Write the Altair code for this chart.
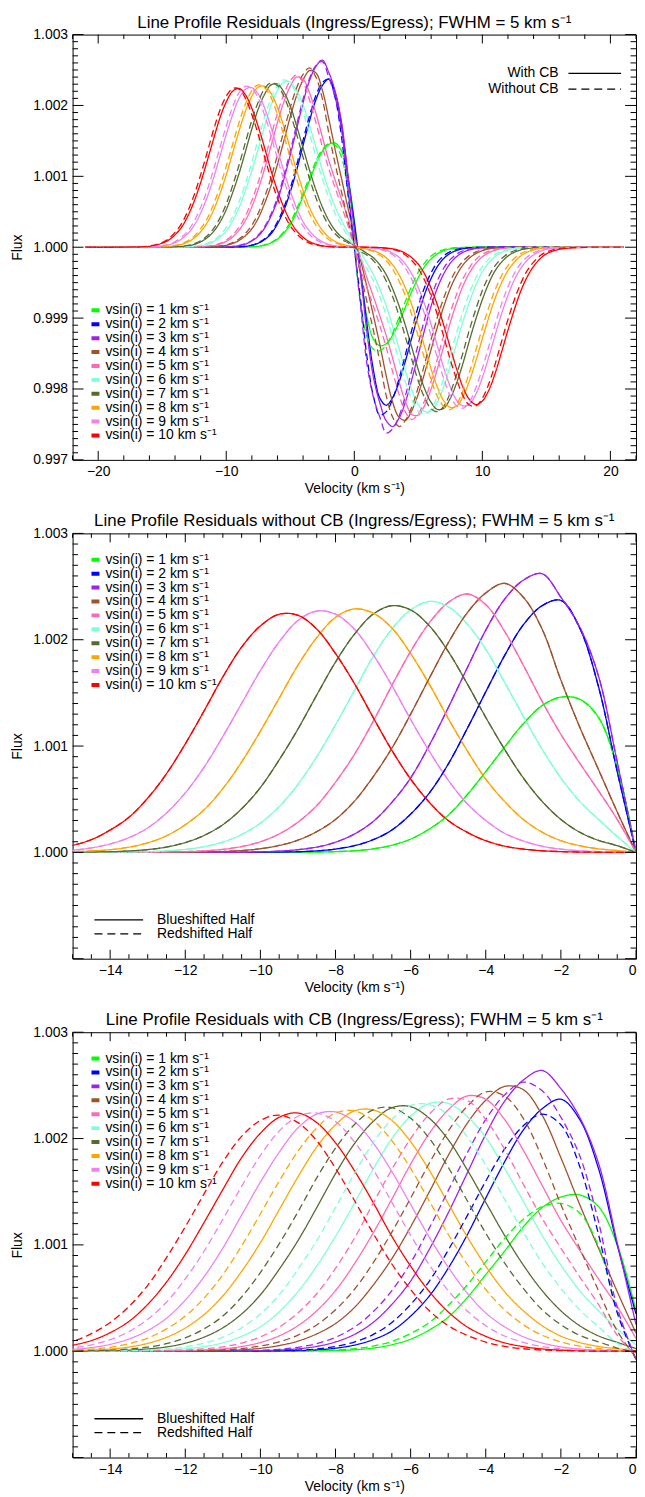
import altair as alt
import pandas as pd

FONT = "Liberation Sans"
SUP = " km s\u207b\u00b9"

# ---------------- data (residuals in units of 1e-3 of flux) ----------------
VEL = [-21, -18, -16, -15, -14.5, -14, -13.5, -13, -12.5, -12, -11.5, -11, -10.5, -10,
       -9.5, -9, -8.5, -8, -7.5, -7, -6.5, -6, -5.5, -5, -4.5, -4, -3.5, -3, -2.5, -2,
       -1.5, -1, -0.5, 0]

# without CB (blueshifted and redshifted halves coincide)
NOCB = {
    1: [0] * 15 + [0.001, 0.003, 0.007, 0.015, 0.033, 0.067, 0.125, 0.22, 0.35, 0.54, 0.76, 0.99,
                   1.21, 1.38, 1.46, 1.44, 1.27, 0.80, 0],
    2: [0] * 13 + [0.001, 0.003, 0.006, 0.014, 0.031, 0.063, 0.119, 0.21, 0.36, 0.56, 0.83, 1.16,
                   1.51, 1.85, 2.14, 2.32, 2.37, 2.11, 1.56, 0.76, 0],
    3: [0] * 13 + [0.005, 0.012, 0.025, 0.050, 0.096, 0.172, 0.29, 0.47, 0.70, 1.01, 1.36, 1.73,
                   2.09, 2.38, 2.56, 2.62, 2.40, 2.12, 1.66, 0.85, 0],
    4: [0] * 9 + [0.002, 0.004, 0.008, 0.017, 0.034, 0.065, 0.115, 0.195, 0.31, 0.48, 0.71, 0.98,
                  1.30, 1.64, 1.97, 2.25, 2.44, 2.53, 2.40, 2.10, 1.62, 1.18, 0.78, 0.38, 0],
    5: [0] * 7 + [0.001, 0.003, 0.007, 0.014, 0.028, 0.055, 0.100, 0.173, 0.284, 0.44, 0.66, 0.92,
                  1.23, 1.57, 1.89, 2.16, 2.35, 2.43, 2.33, 2.08, 1.76, 1.42, 1.11, 0.84, 0.58, 0.31, 0],
    6: [0, 0, 0, 0, 0, 0.001, 0.003, 0.006, 0.014, 0.028, 0.053, 0.097, 0.168, 0.275, 0.43, 0.64,
        0.90, 1.20, 1.52, 1.84, 2.10, 2.28, 2.36, 2.31, 2.15, 1.91, 1.60, 1.28, 0.97, 0.70, 0.48,
        0.31, 0.15, 0],
    7: [0, 0, 0, 0.001, 0.003, 0.006, 0.013, 0.026, 0.050, 0.092, 0.159, 0.26, 0.41, 0.61, 0.87,
        1.16, 1.48, 1.79, 2.05, 2.24, 2.32, 2.28, 2.13, 1.89, 1.59, 1.27, 0.97, 0.70, 0.48, 0.31,
        0.19, 0.113, 0.063, 0],
    8: [0, 0, 0.001, 0.006, 0.013, 0.025, 0.049, 0.090, 0.156, 0.26, 0.40, 0.60, 0.85, 1.14, 1.45,
        1.76, 2.02, 2.21, 2.29, 2.25, 2.11, 1.87, 1.58, 1.26, 0.96, 0.69, 0.48, 0.31, 0.19, 0.11,
        0.063, 0.033, 0.017, 0],
    9: [0, 0, 0.005, 0.021, 0.042, 0.079, 0.139, 0.23, 0.37, 0.56, 0.80, 1.09, 1.40, 1.71, 1.98,
        2.18, 2.27, 2.24, 2.10, 1.86, 1.57, 1.25, 0.95, 0.68, 0.46, 0.30, 0.18, 0.107, 0.058,
        0.030, 0.015, 0.007, 0.003, 0],
    10: [0, 0.001, 0.017, 0.067, 0.12, 0.21, 0.33, 0.51, 0.74, 1.02, 1.33, 1.65, 1.93, 2.13, 2.24,
         2.23, 2.10, 1.87, 1.59, 1.27, 0.96, 0.69, 0.47, 0.30, 0.19, 0.11, 0.059, 0.031, 0.015,
         0.007, 0.003, 0.001, 0, 0],
}

# with CB, blueshifted half (solid)
CB_BLUE = {
    1: [0] * 15 + [0.001, 0.003, 0.006, 0.013, 0.029, 0.060, 0.113, 0.20, 0.32, 0.50, 0.72, 0.94,
                   1.17, 1.35, 1.45, 1.47, 1.36, 1.00, 0.38],
    2: [0] * 13 + [0.001, 0.003, 0.005, 0.012, 0.028, 0.057, 0.108, 0.19, 0.33, 0.52, 0.78, 1.09,
                   1.44, 1.78, 2.08, 2.28, 2.37, 2.18, 1.72, 1.00, 0.35],
    3: [0] * 13 + [0.004, 0.011, 0.022, 0.045, 0.087, 0.157, 0.27, 0.44, 0.66, 0.96, 1.30, 1.67,
                   2.04, 2.35, 2.55, 2.64, 2.47, 2.20, 1.77, 1.02, 0.25],
    4: [0] * 9 + [0.001, 0.003, 0.006, 0.013, 0.027, 0.053, 0.095, 0.163, 0.26, 0.41, 0.62, 0.87,
                  1.17, 1.50, 1.84, 2.14, 2.36, 2.49, 2.46, 2.22, 1.82, 1.38, 0.97, 0.56, 0.17],
    5: [0] * 7 + [0.001, 0.002, 0.005, 0.011, 0.022, 0.044, 0.082, 0.144, 0.24, 0.38, 0.57, 0.82,
                  1.11, 1.43, 1.76, 2.05, 2.27, 2.40, 2.37, 2.18, 1.89, 1.56, 1.23, 0.95, 0.68,
                  0.42, 0.12],
    6: [0, 0, 0, 0, 0, 0.001, 0.002, 0.005, 0.011, 0.022, 0.043, 0.079, 0.14, 0.23, 0.37, 0.56,
        0.80, 1.08, 1.39, 1.71, 2.00, 2.21, 2.33, 2.33, 2.21, 2.01, 1.72, 1.41, 1.09, 0.81, 0.57,
        0.38, 0.21, 0.06],
    7: [0, 0, 0, 0.001, 0.002, 0.005, 0.010, 0.021, 0.040, 0.075, 0.132, 0.22, 0.35, 0.53, 0.77,
        1.04, 1.35, 1.67, 1.95, 2.16, 2.29, 2.30, 2.19, 1.99, 1.71, 1.40, 1.09, 0.81, 0.57, 0.38,
        0.24, 0.144, 0.083, 0.025],
    8: [0, 0, 0.001, 0.004, 0.010, 0.020, 0.039, 0.074, 0.13, 0.218, 0.344, 0.52, 0.75, 1.02,
        1.33, 1.64, 1.92, 2.13, 2.26, 2.27, 2.17, 1.97, 1.70, 1.39, 1.08, 0.80, 0.56, 0.38, 0.24,
        0.142, 0.082, 0.045, 0.023, 0.007],
    9: [0, 0, 0.004, 0.017, 0.034, 0.064, 0.115, 0.194, 0.31, 0.48, 0.70, 0.97, 1.28, 1.59, 1.87,
        2.10, 2.23, 2.25, 2.16, 1.96, 1.69, 1.38, 1.07, 0.79, 0.55, 0.36, 0.23, 0.136, 0.078,
        0.041, 0.021, 0.010, 0.005, 0],
    10: [0, 0.001, 0.013, 0.057, 0.10, 0.174, 0.28, 0.44, 0.65, 0.91, 1.21, 1.52, 1.82, 2.05,
         2.20, 2.24, 2.15, 1.96, 1.70, 1.40, 1.08, 0.80, 0.56, 0.37, 0.23, 0.14, 0.079, 0.043,
         0.021, 0.010, 0.005, 0.001, 0, 0],
}

# with CB, redshifted half mirrored onto negative velocities (dashed)
CB_RED = {
    1: [0] * 14 + [0, 0.002, 0.005, 0.011, 0.023, 0.048, 0.092, 0.166, 0.27, 0.43, 0.62, 0.84,
                   1.06, 1.24, 1.36, 1.39, 1.30, 0.99, 0.38, -0.08],
    2: [0] * 12 + [0, 0.002, 0.004, 0.010, 0.021, 0.045, 0.086, 0.156, 0.27, 0.44, 0.66, 0.95,
                   1.27, 1.60, 1.90, 2.12, 2.23, 2.13, 1.74, 1.10, 0.36, -0.08],
    3: [0] * 12 + [0.002, 0.008, 0.018, 0.037, 0.071, 0.131, 0.225, 0.37, 0.57, 0.83, 1.16, 1.51,
                   1.86, 2.18, 2.41, 2.53, 2.45, 2.20, 1.84, 1.22, 0.41, -0.08],
    4: [0] * 8 + [0.001, 0.003, 0.006, 0.012, 0.025, 0.049, 0.088, 0.152, 0.247, 0.39, 0.58, 0.83,
                  1.12, 1.44, 1.77, 2.07, 2.30, 2.44, 2.40, 2.19, 1.82, 1.38, 0.97, 0.57, 0.19, -0.06],
    5: [0] * 6 + [0.0005, 0.002, 0.005, 0.010, 0.021, 0.041, 0.077, 0.135, 0.226, 0.36, 0.54, 0.78,
                  1.06, 1.39, 1.71, 2.00, 2.23, 2.37, 2.36, 2.18, 1.90, 1.57, 1.25, 0.97, 0.70,
                  0.44, 0.15, -0.04],
    6: [0, 0, 0, 0, 0, 0.002, 0.0045, 0.01, 0.021, 0.04, 0.075, 0.132, 0.22, 0.35, 0.53, 0.77,
        1.04, 1.35, 1.67, 1.96, 2.18, 2.31, 2.32, 2.22, 2.02, 1.75, 1.43, 1.12, 0.83, 0.59, 0.39,
        0.23, 0.075, -0.02],
    7: [0, 0, 0, 0.002, 0.0045, 0.0095, 0.02, 0.038, 0.071, 0.125, 0.21, 0.33, 0.51, 0.74, 1.01,
        1.31, 1.63, 1.91, 2.13, 2.27, 2.29, 2.19, 2.00, 1.73, 1.42, 1.11, 0.83, 0.59, 0.39, 0.25,
        0.15, 0.088, 0.03, -0.01],
    8: [0, 0, 0.003, 0.01, 0.019, 0.037, 0.07, 0.123, 0.21, 0.33, 0.50, 0.72, 0.99, 1.29, 1.60,
        1.88, 2.10, 2.24, 2.26, 2.17, 1.98, 1.72, 1.41, 1.10, 0.82, 0.58, 0.39, 0.25, 0.15, 0.087,
        0.048, 0.025, 0.008, -0.005],
    9: [0, 0.001, 0.01, 0.031, 0.06, 0.109, 0.184, 0.30, 0.46, 0.68, 0.94, 1.24, 1.55, 1.84, 2.07,
        2.21, 2.24, 2.16, 1.97, 1.71, 1.40, 1.09, 0.81, 0.57, 0.38, 0.24, 0.143, 0.083, 0.044,
        0.023, 0.011, 0.005, 0.001, 0],
    10: [0, 0.003, 0.03, 0.094, 0.165, 0.27, 0.42, 0.62, 0.88, 1.17, 1.48, 1.78, 2.02, 2.17, 2.22,
         2.15, 1.98, 1.72, 1.42, 1.11, 0.82, 0.58, 0.38, 0.24, 0.15, 0.085, 0.045, 0.023, 0.011,
         0.005, 0.002, 0, 0, 0],
}

for d in (NOCB, CB_BLUE, CB_RED):
    for k, arr in d.items():
        assert len(arr) == len(VEL), (k, len(arr))

COLORS = ["#00ff00", "#0000ff", "#a020f0", "#a0522d", "#ff69b4",
          "#7fffd4", "#556b2f", "#ffa500", "#ee82ee", "#ff0000"]
LABELS = [f"vsin(i) = {k}{SUP}" for k in range(1, 11)]

TITLES = [
    "Line Profile Residuals (Ingress/Egress); FWHM = 5" + SUP,
    "Line Profile Residuals without CB (Ingress/Egress); FWHM = 5" + SUP,
    "Line Profile Residuals with CB (Ingress/Egress); FWHM = 5" + SUP,
]
XTITLE = "Velocity (km s\u207b\u00b9)"
STYLE_LABELS_TOP = ["With CB", "Without CB"]
STYLE_LABELS_HALF = ["Blueshifted Half", "Redshifted Half"]

X1_MAJOR = [-20, -10, 0, 10, 20]
X2_MAJOR = [-14, -12, -10, -8, -6, -4, -2, 0]
Y1_MAJOR = [0.997, 0.998, 0.999, 1.000, 1.001, 1.002, 1.003]
Y2_LABELS = [1.000, 1.001, 1.002, 1.003]
Y2_MAJOR = [0.999, 1.000, 1.001, 1.002, 1.003]

W, H = 567, 428
FS = 14


def frange(a, b, step):
    n = int(round((b - a) / step))
    return [round(a + i * step, 6) for i in range(n + 1)]


def minors(a, b, step, majors):
    return [t for t in frange(a, b, step) if all(abs(t - m) > 1e-9 for m in majors)]


def build_rows(blue, red, style_b, style_r, mirror):
    rows = []
    for style, src, is_red in ((style_b, blue, False), (style_r, red, True)):
        for k in range(1, 11):
            for v, r in zip(VEL, src[k]):
                if mirror and is_red:
                    if v == 0:
                        continue
                    rows.append(dict(v=-v, flux=1 - r * 1e-3, label=LABELS[k - 1],
                                     style=style, series=f"{style}-{k}", k=k))
                else:
                    rows.append(dict(v=v, flux=1 + r * 1e-3, label=LABELS[k - 1],
                                     style=style, series=f"{style}-{k}", k=k))
    return pd.DataFrame(rows)


def tick_layers(xs, ys, xmaj, xmin, ymaj, ymin):
    layers = []
    XL, XS = 9, 4.5   # vertical ticks on x axes
    YL, YS = 11, 5.5  # horizontal ticks on y axes
    for vals, ln in ((xmaj, XL), (xmin, XS)):
        df = pd.DataFrame({"t": vals})
        base = alt.Chart(df).mark_rule(color="black", strokeWidth=1)
        layers.append(base.encode(x=alt.X("t:Q", scale=xs, axis=None),
                                  y=alt.value(H), y2=alt.value(H - ln)))
        layers.append(base.encode(x=alt.X("t:Q", scale=xs, axis=None),
                                  y=alt.value(0), y2=alt.value(ln)))
    for vals, ln in ((ymaj, YL), (ymin, YS)):
        df = pd.DataFrame({"t": vals})
        base = alt.Chart(df).mark_rule(color="black", strokeWidth=1)
        layers.append(base.encode(y=alt.Y("t:Q", scale=ys, axis=None),
                                  x=alt.value(0), x2=alt.value(ln)))
        layers.append(base.encode(y=alt.Y("t:Q", scale=ys, axis=None),
                                  x=alt.value(W), x2=alt.value(W - ln)))
    return layers


def style_legend(labels, text_x, text_align, line_x1, line_x2, y1, y2):
    layers = []
    for lab, yy, dash in ((labels[0], y1, [1, 0]), (labels[1], y2, [8, 5])):
        df = pd.DataFrame({"lab": [lab]})
        layers.append(alt.Chart(df).mark_rule(color="black", strokeWidth=1.3, strokeDash=dash)
                      .encode(x=alt.value(line_x1), x2=alt.value(line_x2), y=alt.value(yy)))
        layers.append(alt.Chart(df).mark_text(align=text_align, baseline="middle", font=FONT,
                                              fontSize=FS, color="black")
                      .encode(x=alt.value(text_x), y=alt.value(yy), text="lab:N"))
    return layers


def panel(df, title, xdom, ydom, xmaj, xmin, ylab, ymaj, ymin, leg_y, style_layers):
    xs = alt.Scale(domain=xdom, nice=False, zero=False)
    ys = alt.Scale(domain=ydom, nice=False, zero=False)
    xaxis = alt.Axis(values=xmaj, format="d", ticks=False, domain=False, grid=False,
                     labelFont=FONT, labelFontSize=FS, labelPadding=5, labelColor="black",
                     title=XTITLE, titleFont=FONT, titleFontSize=FS, titleFontWeight="normal",
                     titlePadding=3, titleColor="black")
    yaxis = alt.Axis(values=ylab, format=".3f", ticks=False, domain=False, grid=False,
                     labelFont=FONT, labelFontSize=FS, labelPadding=5, labelColor="black",
                     title="Flux", titleFont=FONT, titleFontSize=FS, titleFontWeight="normal",
                     titlePadding=8, titleColor="black")
    legend = alt.Legend(title=None, orient="none", legendX=16, legendY=leg_y,
                        symbolType="stroke", symbolSize=64, symbolStrokeWidth=4,
                        labelFont=FONT, labelFontSize=FS, labelColor="black",
                        rowPadding=-1, clipHeight=11, labelOffset=3, padding=0)
    lines = alt.Chart(df).mark_line(strokeWidth=1.3, interpolate="catmull-rom", clip=True).encode(
        x=alt.X("v:Q", scale=xs, axis=xaxis),
        y=alt.Y("flux:Q", scale=ys, axis=yaxis),
        color=alt.Color("label:N", scale=alt.Scale(domain=LABELS, range=COLORS), legend=legend),
        strokeDash=alt.StrokeDash("style:N", scale=alt.Scale(domain=["solid", "dashed"],
                                                             range=[[1, 0], [7, 4]]), legend=None),
        detail="series:N",
    )
    layers = [lines] + tick_layers(xs, ys, xmaj, xmin, ymaj, ymin) + style_layers
    return alt.layer(*layers).resolve_axis(x="independent", y="independent").properties(
        width=W, height=H,
        title=alt.TitleParams(title, font=FONT, fontSize=17, fontWeight="normal",
                              anchor="middle", frame="group", offset=-4, color="black"),
    )


df1 = build_rows(CB_BLUE, CB_RED, "solid", "solid", True)
df1b = build_rows(NOCB, NOCB, "dashed", "dashed", True)
df1 = pd.concat([df1, df1b], ignore_index=True)
df2 = build_rows(NOCB, NOCB, "solid", "dashed", False)
df3 = build_rows(CB_BLUE, CB_RED, "solid", "dashed", False)

p1 = panel(df1, TITLES[0], [-22, 22], [0.997, 1.003], X1_MAJOR, minors(-22, 22, 2, X1_MAJOR),
           Y1_MAJOR, Y1_MAJOR, minors(0.997, 1.003, 0.0001, Y1_MAJOR), 272,
           style_legend(STYLE_LABELS_TOP, W - 78, "right", W - 68, W - 15, 39, 55))
p2 = panel(df2, TITLES[1], [-15, 0], [0.999, 1.003], X2_MAJOR, minors(-15, 0, 0.5, X2_MAJOR),
           Y2_LABELS, Y2_MAJOR, minors(0.999, 1.003, 0.0001, Y2_MAJOR), 21,
           style_legend(STYLE_LABELS_HALF, 85, "left", 22, 71, H - 39, H - 25))
p3 = panel(df3, TITLES[2], [-15, 0], [0.999, 1.003], X2_MAJOR, minors(-15, 0, 0.5, X2_MAJOR),
           Y2_LABELS, Y2_MAJOR, minors(0.999, 1.003, 0.0001, Y2_MAJOR), 21,
           style_legend(STYLE_LABELS_HALF, 85, "left", 22, 71, H - 39, H - 25))

chart = alt.vconcat(p1, p2, p3, spacing=15).resolve_scale(
    color="independent", strokeDash="independent").resolve_legend(color="independent").properties(
    padding={"left": 2, "top": 0, "right": 0, "bottom": 0}
).configure_view(stroke="black", strokeWidth=1)

chart.save("out.html", embed_options={"renderer": "svg", "actions": False})
